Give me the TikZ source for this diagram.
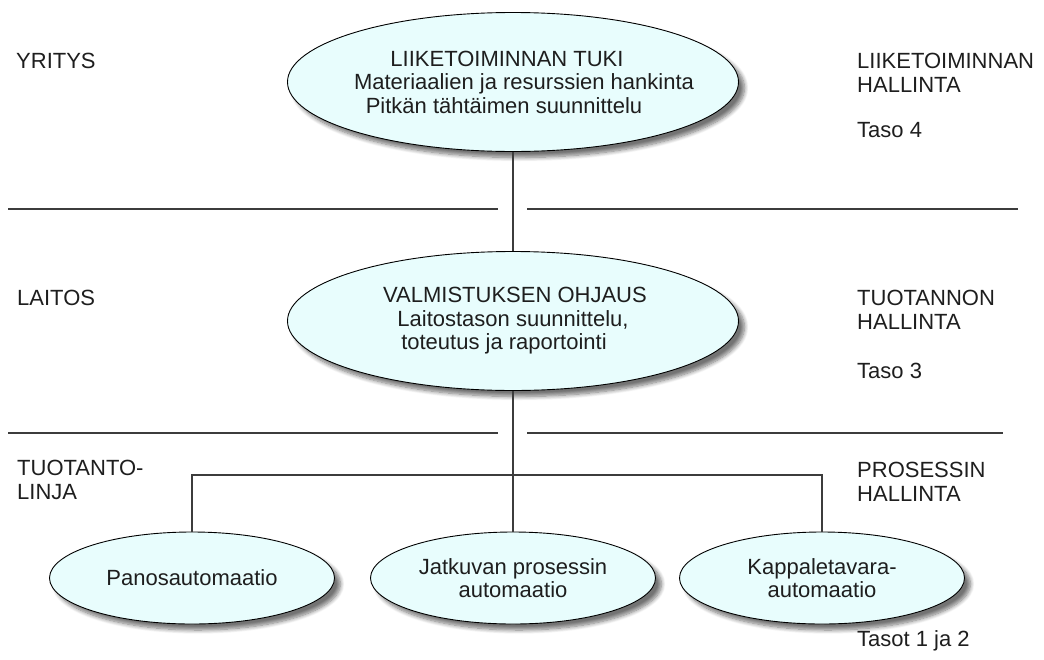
\documentclass[tikz,border=0pt]{standalone}
\usepackage{fontspec}
\setmainfont{Liberation Sans}
\usetikzlibrary{shapes.geometric,shadows.blur}

\definecolor{bubble}{RGB}{232,253,253}
\definecolor{ink}{RGB}{30,30,30}
\definecolor{rule}{RGB}{60,60,60}

\tikzset{
  txt/.style={font=\fontsize{22}{23.5}\selectfont, text=ink},
  % empty ellipse of fixed size; its text is a separate node on top
  bubble/.style={ellipse, draw=black, line width=0.9pt, fill=bubble, inner sep=0pt,
    blur shadow={shadow xshift=6pt, shadow yshift=-6pt, shadow blur steps=8,
      shadow blur radius=4pt, shadow opacity=55}},
  biglevel/.style={bubble, minimum width=451pt, minimum height=139pt},
  smalllevel/.style={bubble, minimum width=285pt, minimum height=92pt},
  inside/.style={txt, align=center, inner sep=0pt},
  label/.style={txt, anchor=north west, inner sep=0pt, align=left},
  link/.style={draw=rule, line width=1.2pt},
  separator/.style={draw=rule, line width=2pt}
}

\begin{document}
\begin{tikzpicture}[x=1pt, y=-1pt]
  \useasboundingbox (0,0) rectangle (1044,659);

  % level separators
  \draw[separator] (8,209) -- (498,209);
  \draw[separator] (527,209) -- (1018,209);
  \draw[separator] (8,433) -- (498,433);
  \draw[separator] (527,433) -- (1003,433);

  % hierarchy
  \node[biglevel] (tuki) at (513,82) {};
  \node[inside] (tuki-t) at (tuki.center)
    {LIIKETOIMINNAN TUKI\hspace*{12pt}\\
     \hspace*{22pt}Materiaalien ja resurssien hankinta\\
     Pitkän tähtäimen suunnittelu\hspace*{18pt}};
  \node[biglevel] (ohjaus) at (513,321) {};
  \node[inside] (ohjaus-t) at (ohjaus.center)
    {\hspace*{4pt}VALMISTUKSEN OHJAUS\\
     Laitostason suunnittelu,\hspace*{8pt}\\
     toteutus ja raportointi\hspace*{18pt}};

  \node[smalllevel] (panos) at (192,578) {};
  \node[inside] (panos-t) at (panos.center) {Panosautomaatio};
  \node[smalllevel] (jatkuva) at (513,578) {};
  \node[inside] (jatkuva-t) at (jatkuva.center) {Jatkuvan prosessin\\automaatio};
  \node[smalllevel] (kappale) at (822,578) {};
  \node[inside] (kappale-t) at (kappale.center) {Kappaletavara-\\automaatio};

  \coordinate (bar) at (513,475);

  \draw[link] (tuki.south) -- (ohjaus.north);
  \draw[link] (ohjaus.south) -- (bar);
  \draw[link] (bar) -- (jatkuva.north);
  \draw[link] (panos.north) |- (bar) -| (kappale.north);

  % side labels
  \node[label] (yritys) at (16,53) {YRITYS};
  \node[label] (laitos) at (17,290) {LAITOS};
  \node[label] (linja) at (17,460) {TUOTANTO-\\LINJA};

  \node[label] (lhallinta) at (857,53) {LIIKETOIMINNAN\\HALLINTA};
  \node[label] (taso4) at (857,122) {Taso 4};
  \node[label] (thallinta) at (857,290) {TUOTANNON\\HALLINTA};
  \node[label] (taso3) at (857,363) {Taso 3};
  \node[label] (phallinta) at (857,462) {PROSESSIN\\HALLINTA};
  \node[label] (taso12) at (857,630) {Tasot 1 ja 2};
\end{tikzpicture}
\end{document}
